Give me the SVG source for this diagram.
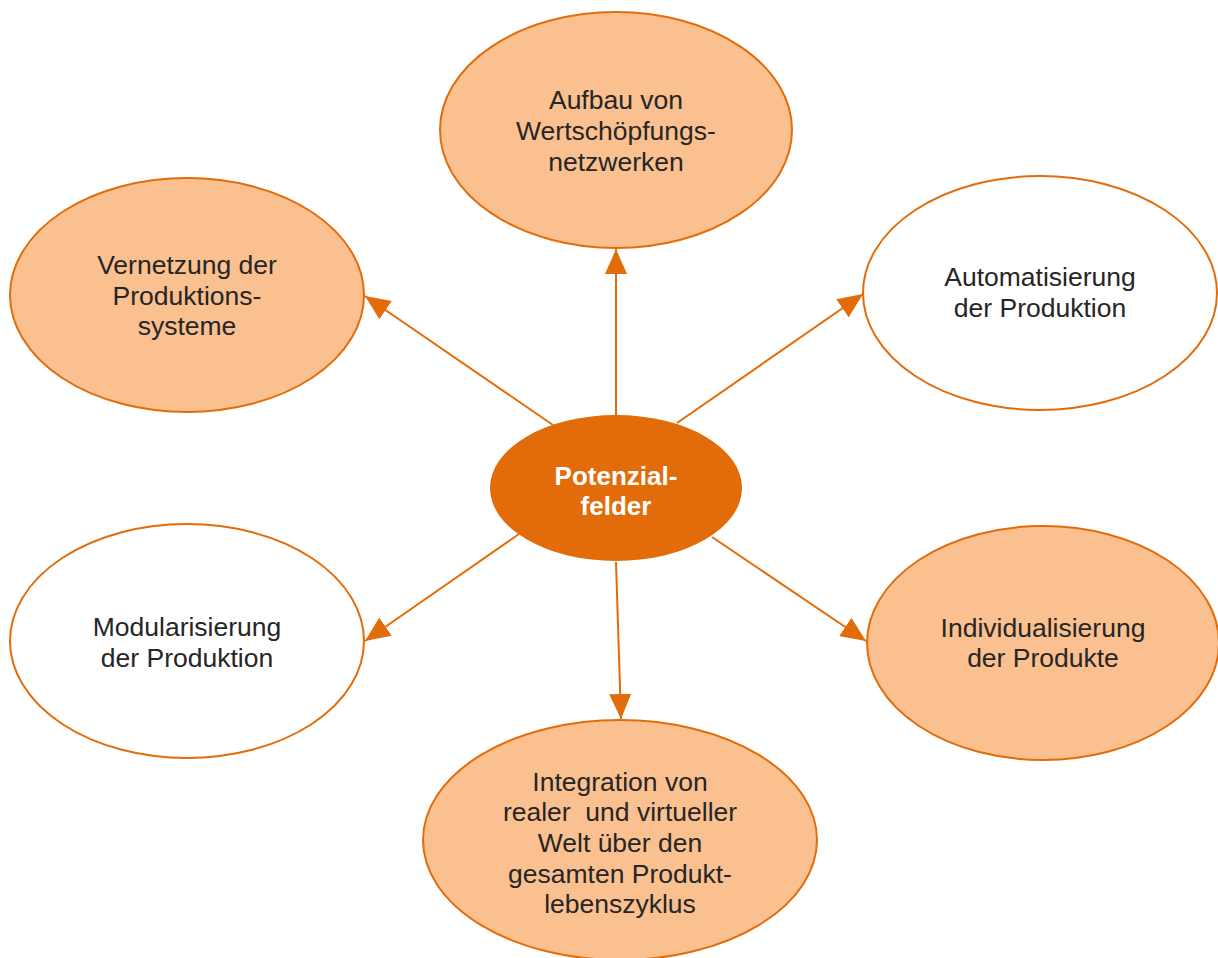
<svg xmlns="http://www.w3.org/2000/svg" width="1218" height="958" viewBox="0 0 1218 958">
<style>
.n{stroke:#E36C0A;stroke-width:2}
.f{fill:#FAC090}
.w{fill:#FFFFFF}
.t{font-family:"Liberation Sans",Arial,sans-serif;font-size:26.5px;fill:#262626;text-anchor:middle}
.c{font-family:"Liberation Sans",Arial,sans-serif;font-size:26px;font-weight:bold;fill:#FFFFFF;text-anchor:middle}
.e{stroke:#E36C0A;stroke-width:2;fill:none;marker-end:url(#a)}
</style>
<defs>
<marker id="a" markerUnits="userSpaceOnUse" markerWidth="26" markerHeight="22" refX="25" refY="11" orient="auto">
<path d="M0,0 L25,11 L0,22 Z" fill="#E36C0A"/>
</marker>
</defs>
<rect width="1218" height="958" fill="#FFFFFF"/>
<g id="connectors">
<line class="e" x1="616" y1="415" x2="616" y2="249"/>
<line class="e" x1="553" y1="425" x2="365" y2="296"/>
<line class="e" x1="677" y1="423" x2="863" y2="294"/>
<line class="e" x1="519" y1="534" x2="365" y2="641"/>
<line class="e" x1="712" y1="537" x2="866" y2="641"/>
<line class="e" x1="616" y1="562" x2="621" y2="719"/>
</g>
<g id="aufbau">
<ellipse class="n f" cx="616" cy="130" rx="176" ry="118"/>
<text class="t" x="616" y="109">Aufbau von</text>
<text class="t" x="616" y="140">Wertschöpfungs-</text>
<text class="t" x="616" y="171">netzwerken</text>
</g>
<g id="vernetzung">
<ellipse class="n f" cx="187" cy="295" rx="177" ry="117"/>
<text class="t" x="187" y="274">Vernetzung der</text>
<text class="t" x="187" y="305">Produktions-</text>
<text class="t" x="187" y="335">systeme</text>
</g>
<g id="automatisierung">
<ellipse class="n w" cx="1040" cy="293" rx="177" ry="117"/>
<text class="t" x="1040" y="286">Automatisierung</text>
<text class="t" x="1040" y="317">der Produktion</text>
</g>
<g id="potenzialfelder">
<ellipse cx="616" cy="488" rx="126" ry="73" fill="#E36C0A"/>
<text class="c" x="616" y="485">Potenzial-</text>
<text class="c" x="616" y="515">felder</text>
</g>
<g id="modularisierung">
<ellipse class="n w" cx="187" cy="641" rx="177" ry="117"/>
<text class="t" x="187" y="636">Modularisierung</text>
<text class="t" x="187" y="667">der Produktion</text>
</g>
<g id="individualisierung">
<ellipse class="n f" cx="1043" cy="643" rx="176" ry="117"/>
<text class="t" x="1043" y="637">Individualisierung</text>
<text class="t" x="1043" y="667">der Produkte</text>
</g>
<g id="integration">
<ellipse class="n f" cx="620" cy="840" rx="197" ry="120"/>
<text class="t" x="620" y="791">Integration von</text>
<text class="t" x="620" y="821" xml:space="preserve">realer  und virtueller</text>
<text class="t" x="620" y="852">Welt über den</text>
<text class="t" x="620" y="883">gesamten Produkt-</text>
<text class="t" x="620" y="913">lebenszyklus</text>
</g>
</svg>
